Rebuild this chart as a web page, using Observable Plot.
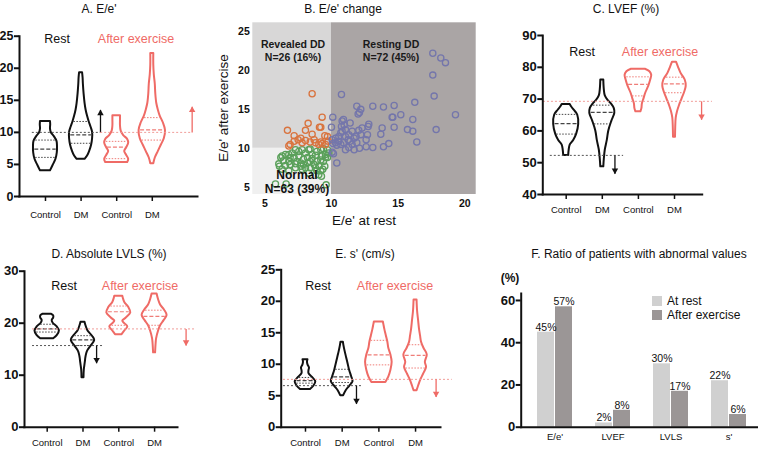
<!DOCTYPE html>
<html><head><meta charset="utf-8">
<script src="https://cdn.jsdelivr.net/npm/d3@7"></script>
<script src="https://cdn.jsdelivr.net/npm/@observablehq/plot@0.6"></script>
<style>
body{margin:0;background:#fff;font-family:"Liberation Sans",Arial,Helvetica,sans-serif;}
#root{position:relative;width:758px;height:449px;overflow:hidden;background:#fff;}
.panel{position:absolute;}
.panel svg{overflow:visible;}
.lbl{position:absolute;transform:translate(-50%,-50%);white-space:nowrap;line-height:1;color:#111;}
</style></head><body><div id="root"></div>
<script>
// ---------- shared ----------
const groupLabels = ["Control", "DM", "Control", "DM"];
const violinColors = ["#111111", "#111111", "#ef6b66", "#ef6b66"];
const quartileColors = ["#444444", "#444444", "#ef7d78", "#ef7d78"];
const cutoffColors = {rest: "#555555", exercise: "#f19c98"};
const arrowColors = {rest: "#111111", exercise: "#ef6b66"};

// ---------- A. E/e' : violin outlines [value, half-width], quartiles [Q1, median, Q3] ----------
const aViolins = [
  [[4.0,5],[4.8,7.5],[5.8,10.5],[6.8,11.8],[7.8,12],[8.6,11.5],[9.3,9],[9.9,6],[10.5,5],[11.2,5.2],[11.7,5]],
  [[5.8,4],[6.3,6.5],[7,8.5],[8,10.5],[9,11.5],[10,11.5],[10.8,10],[11.7,8],[12.5,6.5],[13.5,5],[14.5,4],[16,3],[17.5,2.3],[18.5,2],[19.3,1.5]],
  [[5.3,11],[5.8,12],[6.4,10],[7,8],[7.6,10],[8.3,12],[8.9,11],[9.5,7],[10.2,4.5],[11,3.8],[12,3.8],[12.6,3.8]],
  [[5.1,1.5],[6,3],[7,6],[8,9],[9,12],[10.3,13.2],[11.5,11],[12.5,8],[13.5,6],[14.5,4.5],[16,3.5],[17.5,3],[19,2],[20.5,1.5],[22.3,1.5]]
];
const aQuartiles = [[6.1,7.4,8.8],[8.3,9.6,11.7],[5.9,7.7,8.6],[8.8,10.4,12.3]];
const aCutoffs = [{value:10, from:-0.37, to:1.55, kind:"rest"},{value:10, from:1.55, to:4.13, kind:"exercise"}];
const aArrows = [{x:1.545, from:10, to:13.5, kind:"rest"},{x:4.12, from:10, to:14, kind:"exercise"}];
const aTicks = [0,5,10,15,20,25];

// ---------- C. LVEF ----------
const cViolins = [
  [[52.3,2.5],[54,3],[55.5,4],[57,7.5],[59,10.5],[62,12.5],[65,11.5],[66.5,8],[67.5,5.5],[68.3,4]],
  [[48.7,1.5],[51,2],[54,3],[57,5],[60,6.5],[63,9.5],[65.5,12.5],[67,12],[68.5,9],[69.5,6],[71,3],[73,2],[76,1.5]],
  [[66,2.5],[67,3.5],[68.5,4],[70,5.5],[72,7.5],[74,10.3],[76,12.3],[77.5,13.3],[78.6,11.5],[79.4,7]],
  [[58,1],[61,1.2],[64,1.7],[66,3],[68,5],[70,7.5],[72,10],[74,11.7],[76,10.7],[78,6.7],[80,4],[81.6,2]]
];
const cQuartiles = [[59,62.3,65.2],[62.2,65.8,68.1],[71,74.6,77],[72,74.8,76.9]];
const cCutoffs = [{value:52.3, from:-0.44, to:1.59, kind:"rest"},{value:69.3, from:-0.63, to:4.05, kind:"exercise"}];
const cArrows = [{x:1.35, from:52.3, to:46.5, kind:"rest"},{x:3.75, from:69.3, to:63.5, kind:"exercise"}];
const cTicks = [40,50,60,70,80,90];

// ---------- D. Absolute LVLS ----------
const dViolins = [
  [[17,6.5],[17.6,10],[18.5,12.2],[19.3,10],[20,6],[20.5,5],[21,6.5],[21.4,6.5],[21.7,4.5]],
  [[9.5,1],[11,1.3],[12.3,2.2],[13.5,3],[14.5,4.3],[15.5,7.7],[16.7,11.7],[17.5,9.5],[18.5,5],[19.5,3],[20.2,2]],
  [[17.8,3.3],[18.5,6],[19.3,9],[19.9,6],[20.4,4],[21,7.5],[22,12],[23,10],[24,6],[24.8,4.5],[25.2,4]],
  [[14.3,1],[16,1.5],[17,2],[18.5,4],[19.5,6],[20.5,9.5],[21.5,12.5],[22.5,10],[23.5,6],[24.5,4],[25.6,2.5]]
];
const dQuartiles = [[18.3,18.9,19.8],[15.7,16.8,17.6],[19.6,22.2,23.3],[19.6,21.3,22.5]];
const dCutoffs = [{value:15.7, from:-0.41, to:1.57, kind:"rest"},{value:18.9, from:-0.41, to:4.15, kind:"exercise"}];
const dArrows = [{x:1.38, from:15.7, to:12.3, kind:"rest"},{x:3.88, from:18.9, to:15.7, kind:"exercise"}];
const dTicks = [0,10,20,30];

// ---------- E. s' ----------
const eViolins = [
  [[6,5],[6.5,8.3],[7.2,10.3],[7.9,7],[8.5,3.5],[9,3.5],[9.4,4],[9.9,2.5],[10.3,2],[10.7,2.5]],
  [[5,1.5],[5.8,4],[6.5,7.5],[7.2,10.8],[8,9.5],[9,7.5],[10,6],[11,4.5],[12,3],[13,1.7],[13.5,1.2]],
  [[7.1,7],[8,10],[9,12],[10.3,13.3],[11.5,12],[12.5,10],[13.5,9],[14.5,7.5],[15.5,6],[16.3,5],[16.7,4.5]],
  [[5.8,1.5],[6.5,3],[7.5,5.3],[8.5,8.3],[9.5,11],[10.3,9.8],[11.5,11.7],[12.5,8.5],[13.5,6],[14.5,5],[15.5,4],[17,3],[18.5,2],[20.2,1.5]]
];
const eQuartiles = [[7.0,7.4,7.9],[7.1,8.0,9.2],[9.9,11.5,13.8],[9.4,11.4,13.1]];
const eCutoffs = [{value:6.6, from:-0.6, to:1.58, kind:"rest"},{value:7.6, from:-0.6, to:4.0, kind:"exercise"}];
const eArrows = [{x:1.39, from:6.6, to:3.7, kind:"rest"},{x:3.56, from:7.6, to:4.8, kind:"exercise"}];
const eTicks = [0,5,10,15,20,25];

// ---------- B. E/e' change scatter ----------
const revealedDD = [[8.55,17.0],[8.25,13.2],[9.3,14.0],[6.7,12.3],[8.05,12.3],[9.1,12.7],[9.2,12.7],[7.2,11.6],[8.55,11.8],[7.7,11.3],[9.5,11.6],[9.7,11.5],[6.9,10.5],[6.8,10.3],[7.2,10.9],[8.05,11.0],[8.4,10.8],[8.8,10.7],[9.2,10.8],[9.3,10.6],[9.05,10.5],[9.55,10.5],[9.75,10.9],[7.5,11.1],[7.8,10.7],[8.7,11.1]];
const normal = [[5.8,5.4],[6.6,5.4],[9.6,5.3],[6.2,8.8],[6.3,9.0],[6.55,9.2],[6.8,9.2],[7.05,9.4],[7.3,9.8],[7.55,9.6],[7.8,9.8],[8.05,9.4],[8.3,9.8],[8.55,9.2],[8.9,9.6],[9.2,9.8],[9.4,9.95],[9.7,9.8],[9.8,9.4],[9.55,9.2],[9.3,9.0],[6.05,8.0],[6.1,7.7],[6.4,8.4],[6.8,8.3],[6.9,7.9],[7.2,8.8],[7.4,8.3],[7.7,8.1],[7.9,7.9],[8.2,8.1],[8.4,8.3],[8.7,7.9],[8.9,8.3],[9.2,8.5],[9.4,8.3],[9.55,8.8],[9.05,7.7],[8.8,7.5],[8.05,7.5],[7.8,7.3],[7.3,7.5],[6.3,7.3],[6.8,7.1],[9.2,7.1],[9.05,6.6],[9.35,7.3],[9.25,6.4],[8.4,7.5],[7.55,9.0],[8.2,8.8],[8.55,8.7],[7.9,8.6],[7.3,8.0],[6.55,7.8],[8.4,9.9],[8.8,9.1],[9.5,7.7],[9.7,8.8],[6.9,8.8],[7.7,7.7],[8.9,7.1],[8.3,6.8]];
const restingDD = [[10.75,16.9],[11.9,15.4],[12.2,15.0],[12.1,14.6],[12.0,14.4],[13.1,15.4],[13.9,15.3],[14.7,15.5],[16.25,15.9],[17.6,19.4],[17.6,22.2],[18.2,21.6],[18.55,21.0],[17.7,16.7],[19.3,14.3],[17.85,12.4],[16.4,10.8],[16.1,13.7],[16.1,12.2],[15.7,12.4],[15.2,14.3],[14.55,14.0],[14.6,14.0],[14.7,12.7],[13.8,12.6],[13.7,11.8],[14.3,10.6],[13.9,10.2],[13.1,10.1],[12.6,10.2],[12.6,11.1],[12.7,11.75],[12.75,12.8],[12.8,13.1],[12.3,12.6],[12.2,11.75],[12.05,12.3],[12.1,10.0],[11.7,9.8],[11.4,10.9],[11.7,11.3],[11.55,12.2],[11.4,13.25],[10.9,13.7],[10.8,13.5],[10.95,13.0],[10.75,12.8],[11.05,12.4],[10.8,12.2],[10.7,12.0],[10.55,11.5],[10.3,11.3],[10.05,11.1],[10.1,14.0],[10.0,12.7],[11.05,11.5],[11.25,11.1],[10.9,10.7],[10.7,10.5],[10.4,10.4],[11.05,9.8],[10.4,8.1],[11.3,10.1],[11.55,10.5],[11.9,10.7],[10.05,9.5],[10.1,10.6],[10.3,10.7],[11.85,11.5],[11.3,11.75],[10.55,10.9],[10.15,9.3]];
const bCutoff = 10;
const bTicksX = [5,10,15,20];
const bTicksY = [5,10,15,20,25];

// ---------- F. Ratio of abnormal values ----------
const fCategories = ["E/e'", "LVEF", "LVLS", "s'"];
const fAtRest = [45, 2, 30, 22];
const fAfterExercise = [57, 8, 17, 6];
const fTicks = [0,20,40,60];

// ---------- helpers ----------
const root = document.getElementById("root");
const FONT = "'Liberation Sans', Arial, Helvetica, sans-serif";
function place(svg, left, top, w) {
  const d = document.createElement("div");
  d.className = "panel"; d.style.left = left + "px"; d.style.top = top + "px"; d.style.width = w + "px";
  d.appendChild(svg); root.appendChild(d);
}
function label(text, x, y, style = {}) {
  const d = document.createElement("div");
  d.className = "lbl"; d.textContent = text;
  d.style.left = x + "px"; d.style.top = y + "px";
  Object.assign(d.style, style);
  root.appendChild(d);
}
function halfAt(prof, v) {
  for (let j = 0; j < prof.length - 1; j++) {
    const [v0, d0] = prof[j], [v1, d1] = prof[j + 1];
    if (v >= v0 && v <= v1) return d0 + (d1 - d0) * (v - v0) / (v1 - v0);
  }
  return 0;
}

function violinPanel(o) {
  const k = 1 / o.spacing;
  const marks = [];
  o.violins.forEach((prof, i) => {
    const rows = prof.map(([v, d]) => ({v, x1: i - d * k, x2: i + d * k}));
    marks.push(Plot.areaX(rows, {y: "v", x1: "x1", x2: "x2", curve: "catmull-rom", fill: "white", stroke: violinColors[i], strokeWidth: 2, strokeLinejoin: "round"}));
    const q = o.quartiles[i].map((v, j) => { const d = halfAt(prof, v) * 0.9; return {v, x1: i - d * k, x2: i + d * k, med: j === 1}; });
    marks.push(Plot.ruleY(q.filter(r => !r.med), {y: "v", x1: "x1", x2: "x2", stroke: quartileColors[i], strokeWidth: 1, strokeDasharray: "1.5,1.5"}));
    marks.push(Plot.ruleY(q.filter(r => r.med), {y: "v", x1: "x1", x2: "x2", stroke: quartileColors[i], strokeWidth: 1.2, strokeDasharray: "4,2"}));
  });
  for (const kind of ["rest", "exercise"]) {
    marks.push(Plot.ruleY(o.cutoffs.filter(c => c.kind === kind), {y: "value", x1: "from", x2: "to", stroke: cutoffColors[kind], strokeWidth: 1, strokeDasharray: "2,2"}));
    const arr = o.arrows.filter(a => a.kind === kind);
    marks.push(Plot.link(arr, {x1: "x", x2: "x", y1: "from", y2: "to", stroke: arrowColors[kind], strokeWidth: 1.3}));
    const up = arr.filter(a => a.to > a.from), down = arr.filter(a => a.to < a.from);
    marks.push(Plot.dot(up, {x: "x", y: "to", symbol: "triangle", r: 2.4, fill: arrowColors[kind], stroke: "none", dy: 3.4}));
    marks.push(Plot.dot(down, {x: "x", y: "to", symbol: "triangle", r: 2.4, rotate: 180, fill: arrowColors[kind], stroke: "none", dy: -3.4}));
  }
  marks.push(Plot.frame({anchor: "left", strokeWidth: 2, stroke: "#111"}));
  marks.push(Plot.frame({anchor: "bottom", strokeWidth: 2, stroke: "#111"}));
  marks.push(Plot.axisY(o.ticks, {tickSize: 5, tickPadding: 1, strokeWidth: 2, fontWeight: "bold", fontSize: o.tickFont, fill: "#111", label: null}));
  marks.push(Plot.axisX([0, 1, 2, 3], {tickFormat: i => groupLabels[i], tickSize: 5, tickPadding: o.xPad, strokeWidth: 1.5, fontSize: 9.5, fill: "#111", label: null}));
  return Plot.plot({
    width: o.width, height: o.height,
    marginLeft: o.m[0], marginRight: o.m[1], marginTop: o.m[2], marginBottom: o.m[3],
    x: {domain: o.xDomain}, y: {domain: o.yDomain},
    style: {fontFamily: FONT, background: "transparent", overflow: "visible", color: "#111"},
    marks
  });
}

// ---------- A ----------
place(violinPanel({violins: aViolins, quartiles: aQuartiles, cutoffs: aCutoffs, arrows: aArrows, ticks: aTicks,
  spacing: 35.6, width: 250, height: 225, m: [19, 53, 35.7, 29], xDomain: [-0.73, 4.27], yDomain: [0, 25], tickFont: 12.5, xPad: 10}), 0, 0, 250);
// ---------- C ----------
place(violinPanel({violins: cViolins, quartiles: cQuartiles, cutoffs: cCutoffs, arrows: cArrows, ticks: cTicks,
  spacing: 36.1, width: 258, height: 225, m: [42.3, 56.3, 35, 31], xDomain: [-0.648, 3.767], yDomain: [40, 90], tickFont: 13, xPad: 7}), 500, 0, 258);
// ---------- D ----------
place(violinPanel({violins: dViolins, quartiles: dQuartiles, cutoffs: dCutoffs, arrows: dArrows, ticks: dTicks,
  spacing: 35.8, width: 250, height: 224, m: [24, 73, 45.7, 22.3], xDomain: [-0.634, 3.64], yDomain: [0, 30], tickFont: 13, xPad: 7.5}), 0, 225, 250);
// ---------- E ----------
place(violinPanel({violins: eViolins, quartiles: eQuartiles, cutoffs: eCutoffs, arrows: eArrows, ticks: eTicks,
  spacing: 36.7, width: 260, height: 224, m: [30.7, 70, 44.3, 22.3], xDomain: [-0.662, 3.68], yDomain: [0, 25], tickFont: 13, xPad: 7.5}), 250, 225, 260);

// ---------- B ----------
const bX = [4.1, 20.855], bY = [4.06, 26.12];
const zones = [
  {x1: bX[0], x2: bCutoff, y1: bY[0], y2: bCutoff, fill: "#f0f0f0"},
  {x1: bX[0], x2: bCutoff, y1: bCutoff, y2: bY[1], fill: "#d8d7d7"},
  {x1: bCutoff, x2: bX[1], y1: bY[0], y2: bY[1], fill: "#aaa5a5"}
];
const pts = [
  ...normal.map(([x, y]) => ({x, y, c: "#5aa05a"})),
  ...revealedDD.map(([x, y]) => ({x, y, c: "#d9733e"})),
  ...restingDD.map(([x, y]) => ({x, y, c: "#7476ab"}))
];
place(Plot.plot({
  width: 300, height: 230, marginLeft: 52.3, marginRight: 24.3, marginTop: 22.3, marginBottom: 36,
  x: {domain: bX}, y: {domain: bY},
  style: {fontFamily: FONT, background: "transparent", overflow: "visible", color: "#111"},
  marks: [
    Plot.rect(zones, {x1: "x1", x2: "x2", y1: "y1", y2: "y2", fill: d => d.fill}),
    Plot.dot(pts, {x: "x", y: "y", r: 3.1, stroke: d => d.c, strokeWidth: 1.3, fill: "none"}),
    Plot.axisX(bTicksX, {tickSize: 0, tickPadding: 5, fontWeight: "bold", fontSize: 10.5, fill: "#111", label: null}),
    Plot.axisY(bTicksY, {tickSize: 0, tickPadding: 3, fontWeight: "bold", fontSize: 10.5, fill: "#111", label: null})
  ]
}), 200, 0, 300);

// ---------- F ----------
const fRows = fCategories.map((cat, i) => ({cat, rest: fAtRest[i], ex: fAfterExercise[i]}));
place(Plot.plot({
  width: 258, height: 224, marginLeft: 20.7, marginRight: 1.3, marginTop: 68, marginBottom: 22.3,
  x: {domain: fCategories, paddingInner: 0.4, paddingOuter: 0.231, align: 0.586},
  y: {domain: [0, 63.3]},
  style: {fontFamily: FONT, background: "transparent", overflow: "visible", color: "#111"},
  marks: [
    Plot.barY(fRows, {x: "cat", y: "rest", fill: "#d0d0d0", insetRight: 18}),
    Plot.barY(fRows, {x: "cat", y: "ex", fill: "#9b9696", insetLeft: 18}),
    Plot.text(fRows, {x: "cat", y: "rest", text: d => d.rest + "%", dx: -9, dy: -5, fontSize: 10.5, fill: "#111"}),
    Plot.text(fRows, {x: "cat", y: "ex", text: d => d.ex + "%", dx: 9, dy: -5, fontSize: 10.5, fill: "#111"}),
    Plot.frame({anchor: "left", strokeWidth: 2, stroke: "#111"}),
    Plot.frame({anchor: "bottom", strokeWidth: 2, stroke: "#111"}),
    Plot.axisY(fTicks, {tickSize: 5, tickPadding: 1, strokeWidth: 2, fontWeight: "bold", fontSize: 13, fill: "#111", label: null}),
    Plot.axisX({tickSize: 0, tickPadding: 6, fontSize: 9.5, fill: "#111", label: null})
  ]
}), 500, 225, 258);

// ---------- text labels ----------
const T = {fontSize: "12px"};
label("A. E/e'", 99, 9, T);
label("B. E/e' change", 343, 9, T);
label("C. LVEF (%)", 626, 9, T);
label("D. Absolute LVLS (%)", 109, 254, T);
label("E. s' (cm/s)", 365, 254, T);
label("F. Ratio of patients with abnormal values", 639, 254, T);

const R = {fontSize: "12.5px"}, X = {fontSize: "12.5px", color: "#ef6b66"};
label("Rest", 57, 39, R); label("After exercise", 136, 39, X);
label("Rest", 582, 52, R); label("After exercise", 660, 52, X);
label("Rest", 64, 286, R); label("After exercise", 140, 286, X);
label("Rest", 318, 286, R); label("After exercise", 395, 286, X);

const Z = {fontSize: "10.5px", fontWeight: "bold", color: "#1a1a1a", textAlign: "center", lineHeight: "13px"};
label("Revealed DD", 293, 44, Z); label("N=26 (16%)", 293, 57, Z);
label("Resting DD", 391, 44, Z); label("N=72 (45%)", 391, 57, Z);
const Zb = {fontSize: "12px", fontWeight: "bold", color: "#111"};
label("Normal", 297, 175, Zb); label("N=63 (39%)", 297, 189, Zb);
label("E/e' after exercise", 224, 108, {fontSize: "13.5px", transform: "translate(-50%,-50%) rotate(-90deg)"});
label("E/e' at rest", 364, 221, {fontSize: "13.5px"});

label("(%)", 510, 278, {fontSize: "12px", fontWeight: "bold"});
const sw = (x, y, c) => { const d = document.createElement("div"); Object.assign(d.style, {position: "absolute", left: x + "px", top: y + "px", width: "10px", height: "10px", background: c}); root.appendChild(d); };
sw(652, 296, "#d0d0d0"); sw(652, 310, "#9b9696");
label("At rest", 667, 301, {fontSize: "12px", transform: "translate(0,-50%)"});
label("After exercise", 667, 315, {fontSize: "12px", transform: "translate(0,-50%)"});
</script></body></html>
